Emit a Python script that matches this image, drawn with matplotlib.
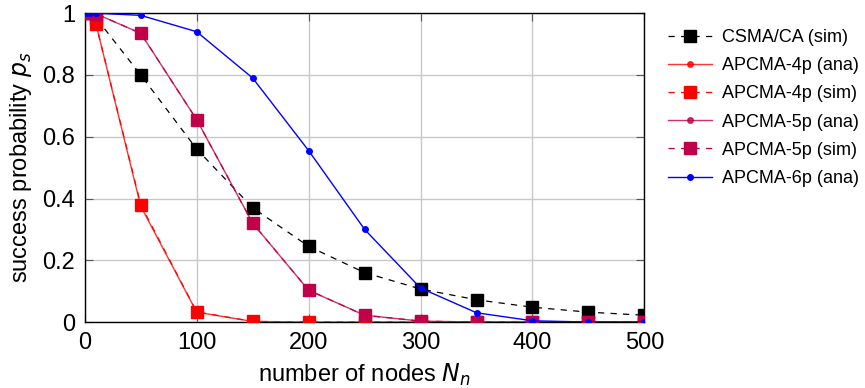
import numpy as np
import matplotlib
matplotlib.use('Agg')
import matplotlib.pyplot as plt

# number of nodes
N = [1, 5, 10, 50, 100, 150, 200, 250, 300, 350, 400, 450, 500]
N_sim = [1, 10, 50, 100, 150, 200, 250, 300, 350, 400, 450, 500]

# success probability per scheme
csma_sim = [1.0, 0.985, 0.80, 0.56, 0.37, 0.245, 0.16, 0.107, 0.072, 0.048, 0.032, 0.022]
ap4_ana = [1.0, 0.99, 0.965, 0.375, 0.032, 0.002, 0.0, 0.0, 0.0, 0.0, 0.0, 0.0, 0.0]
ap4_sim = [1.0, 0.965, 0.38, 0.033, 0.002, 0.0, 0.0, 0.0, 0.0, 0.0, 0.0, 0.0]
ap5_ana = [1.0, 1.0, 0.998, 0.935, 0.655, 0.32, 0.103, 0.022, 0.003, 0.0, 0.0, 0.0, 0.0]
ap5_sim = [1.0, 0.998, 0.935, 0.655, 0.32, 0.103, 0.022, 0.003, 0.0, 0.0, 0.0, 0.0]
ap6_ana = [1.0, 1.0, 1.0, 0.993, 0.94, 0.79, 0.555, 0.30, 0.11, 0.03, 0.004, 0.0, 0.0]

crim = '#c00048'
plt.rcParams['font.family'] = ['Liberation Sans', 'DejaVu Sans']

fig = plt.figure(figsize=(8.65, 3.88), dpi=100)
ax = fig.add_axes([0.098, 0.170, 0.647, 0.796])

ax.plot(N_sim, csma_sim, 'k--', marker='s', ms=9, lw=0.9, dashes=(5, 5),
        label='CSMA/CA (sim)', zorder=3)
ax.plot(N, ap4_ana, '-', color='red', marker='o', ms=4, lw=1.0, alpha=0.8,
        label='APCMA-4p (ana)', zorder=4)
ax.plot(N_sim, ap4_sim, '--', color='red', marker='s', ms=9, lw=0.9,
        dashes=(5, 5), label='APCMA-4p (sim)', zorder=4)
ax.plot(N, ap5_ana, '-', color=crim, marker='o', ms=4, lw=1.0, alpha=0.8,
        label='APCMA-5p (ana)', zorder=5)
ax.plot(N_sim, ap5_sim, '--', color=crim, marker='s', ms=9, lw=0.9,
        dashes=(5, 5), label='APCMA-5p (sim)', zorder=5)
ax.plot(N, ap6_ana, '-', color='blue', marker='o', ms=4, lw=1.0,
        label='APCMA-6p (ana)', zorder=6)

ax.set_xlim(0, 500); ax.set_ylim(0, 1)
ax.set_xticks([0, 100, 200, 300, 400, 500])
ax.set_yticks([0, 0.2, 0.4, 0.6, 0.8, 1])
ax.set_yticklabels(['0', '0.2', '0.4', '0.6', '0.8', '1'])
ax.grid(True, color='#c8c8c8', lw=1.0)
ax.tick_params(direction='in', top=True, right=True, labelsize=17,
               length=6, color='#555555', pad=7)
for s in ax.spines.values():
    s.set_linewidth(1.0)
ax.set_xlabel('number of nodes $N_n$', fontsize=17, labelpad=6)
ax.set_ylabel('success probability $p_s$', fontsize=17, labelpad=6)

ax.legend(loc='upper left', bbox_to_anchor=(1.02, 0.99), frameon=False,
          fontsize=13, handlelength=2.4, handletextpad=0.55,
          labelspacing=0.62, borderaxespad=0.3)

fig.savefig('out.png', dpi=100)
